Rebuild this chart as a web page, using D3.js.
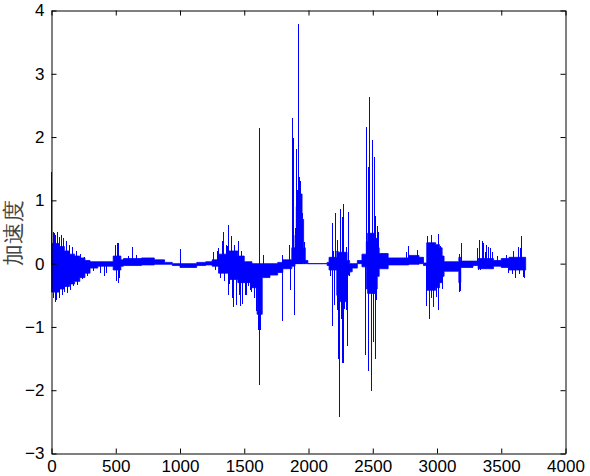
<!DOCTYPE html>
<html>
<head>
<meta charset="utf-8">
<script src="https://cdn.jsdelivr.net/npm/d3@7"></script>
<style>
  body { margin: 0; background: #fff; }
  text { font-family: "Liberation Sans", Arial, sans-serif; }
</style>
</head>
<body>
<div id="chart"></div>
<script>
var svgWidth = 590;
var svgHeight = 476;

var margin = { top: 10.5, right: 24.5, bottom: 22.5, left: 51.5 };
var width = svgWidth - margin.left - margin.right;
var height = svgHeight - margin.top - margin.bottom;

// tick values
var xTicks = [0, 500, 1000, 1500, 2000, 2500, 3000, 3500, 4000];
var yTicks = [-3, -2, -1, 0, 1, 2, 3, 4];

// dense part of the signal, read as an envelope (start of each step)
var envX  = [0, 60, 100, 140, 180, 220, 260, 300, 360, 480, 540, 560, 700, 800, 880, 940, 1000, 1130, 1200, 1250, 1300, 1380, 1450, 1500, 1560, 1600, 1640, 1700, 1760, 1800, 1870, 1895, 1905, 1930, 1950, 1962, 1975, 1995, 2145, 2160, 2220, 2230, 2300, 2320, 2340, 2380, 2416, 2450, 2460, 2520, 2535, 2550, 2620, 2780, 2860, 2895, 2920, 2990, 3020, 3040, 3055, 3170, 3185, 3280, 3320, 3440, 3500, 3560, 3690];
var envHi = [0.32, 0.27, 0.2, 0.15, 0.12, 0.09, 0.05, 0.03, 0.03, 0.12, 0.06, 0.08, 0.09, 0.06, 0.02, 0, 0, 0.02, 0.03, 0.06, 0.15, 0.2, 0.12, 0.03, 0, 0, 0, 0, 0.02, 0.06, 0.25, 0.45, 0.9, 1.1, 0.7, 0.25, 0.05, 0, 0.02, 0.1, 0.2, 0.18, 0.05, 0, 0, 0.05, 0.15, 0.35, 0.48, 0.4, 0.25, 0.16, 0.09, 0.13, 0.1, 0.01, 0.33, 0.3, 0.25, 0.12, 0.03, 0.1, 0.04, 0.04, 0.08, 0.05, 0.08, 0.1, 0];
var envLo = [-0.45, -0.4, -0.36, -0.32, -0.28, -0.22, -0.15, -0.07, -0.04, -0.1, -0.04, -0.03, -0.02, -0.01, -0.01, -0.03, -0.06, -0.03, -0.02, -0.04, -0.15, -0.25, -0.3, -0.3, -0.38, -0.8, -0.22, -0.18, -0.14, -0.08, -0.04, 0, 0, 0, 0, 0, 0, 0, -0.03, -0.1, -0.5, -0.6, -0.18, -0.13, -0.07, 0, -0.05, -0.4, -0.47, -0.4, -0.2, -0.08, -0.02, -0.01, 0, -0.03, -0.42, -0.38, -0.3, -0.2, -0.12, -0.3, -0.06, -0.03, -0.08, -0.04, -0.06, -0.1, 0];

// isolated peaks sticking out of the envelope
var spikeX = [2, 12, 14, 20, 28, 35, 42, 50, 60, 66, 75, 85, 95, 105, 115, 125, 140, 150, 165, 175, 195, 205, 225, 240, 260, 280, 330, 380, 410, 430,
  495, 505, 510, 520, 525, 530, 600, 634, 660, 1000, 1260, 1275, 1290,
  1300, 1312, 1329, 1342, 1350, 1358, 1370, 1376, 1380, 1389, 1402, 1405, 1415, 1422, 1428, 1436, 1441, 1454, 1462, 1467, 1480, 1488, 1506, 1519, 1532, 1545, 1558, 1576, 1592, 1610, 1615, 1617, 1625, 1648, 1795, 1800, 1856, 1862,
  1879, 1887, 1889, 1897, 1905, 1913, 1921, 1930, 1935, 1945, 1953, 1965,
  2172, 2185, 2186, 2195, 2206, 2214, 2224, 2226, 2235, 2240, 2248, 2253, 2263, 2265, 2271, 2273, 2280, 2292, 2294, 2302, 2310, 2320,
  2445, 2455, 2465, 2470, 2478, 2488, 2494, 2500, 2505, 2513, 2518, 2525, 2530, 2540, 2548,
  2764, 2775, 2845, 2915, 2925, 2938, 2955, 2960, 2971, 2980, 2995, 3008, 3012, 3030, 3040,
  3172, 3176, 3180, 3187, 3314, 3322, 3330, 3340, 3353, 3361, 3374, 3385, 3400, 3418, 3430, 3470, 3542, 3560, 3586, 3594, 3611, 3633, 3641, 3646, 3661, 3672, 3680];
var spikeY = [1.45, 0.5, -0.55, 0.48, -0.6, 0.45, -0.58, 0.5, 0.42, -0.55, 0.46, -0.5, 0.4, -0.45, 0.35, -0.47, 0.3, -0.42, 0.27, -0.35, 0.2, -0.33, 0.15, -0.25, 0.1, -0.2, -0.12, -0.15, -0.2, -0.15,
  0.3, -0.28, 0.33, -0.3, 0.32, -0.22, 0.12, 0.27, 0.14, 0.23, 0.18, -0.1, 0.2,
  0.25, -0.22, 0.35, 0.5, -0.28, 0.3, 0.28, 0.61, -0.5, -0.32, 0.43, -0.55, -0.68, 0.25, 0.3, -0.66, -0.45, 0.36, -0.5, -0.67, 0.2, -0.63, -0.49, -0.5, -0.36, -0.42, -0.45, -0.55, -0.75, -1.05, -1.92, 2.14, -1.05, 0.14, -0.9, 0.13, 0.29, -0.42,
  2.3, 1.98, -0.81, 0.56, 1.81, 1.16, 3.79, 1.37, 1.3, 0.95, 0.8, 0.34,
  -0.2, 0.65, -0.98, 0.2, -0.65, 0.8, 0.38, -0.74, -1.51, -2.42, 0.87, -0.87, 0.74, -1.57, 0.95, -1.57, -0.72, 0.26, -0.73, -1.3, 0.81, -0.2,
  -1.45, 2.16, 1.53, -1.7, 2.64, -0.98, -2.02, 1.95, -1.24, 1.69, -1.5, 0.76, -0.58, 0.6, 0.5,
  0.19, 0.28, 0.22, -0.67, 0.43, -0.87, 0.46, -0.55, -0.68, 0.3, -0.52, 0.47, -0.74, 0.28, -0.4,
  -0.45, 0.16, -0.44, 0.33, 0.24, -0.1, 0.38, -0.1, 0.36, 0.33, 0.18, 0.3, 0.26, 0.25, 0.18, 0.12, 0.14, -0.15, -0.16, 0.2, -0.22, 0.26, -0.17, 0.24, 0.44, -0.21, -0.22];

var svg = d3.select("#chart")
  .append("svg")
  .attr("width", svgWidth)
  .attr("height", svgHeight);

var chartGroup = svg.append("g")
  .attr("transform", `translate(${margin.left}, ${margin.top})`);

var x = d3.scaleLinear().domain([0, 4000]).range([0, width]);
var y = d3.scaleLinear().domain([-3, 4]).range([height, 0]);

// envelope
var env = envX.map((d, i) => ({ x: d, hi: envHi[i], lo: envLo[i] }));
var area = d3.area()
  .curve(d3.curveStepAfter)
  .x(d => x(d.x))
  .y0(d => y(d.lo))
  .y1(d => y(d.hi));

chartGroup.append("path")
  .datum(env)
  .attr("d", area)
  .attr("fill", "#0000ff")
  .attr("stroke", "#0000ff")
  .attr("stroke-width", 0.8);

// peaks
chartGroup.selectAll("line.spike")
  .data(spikeX.map((d, i) => ({ x: d, v: spikeY[i] })))
  .enter()
  .append("line")
  .attr("class", "spike")
  .attr("x1", d => x(d.x))
  .attr("x2", d => x(d.x))
  .attr("y1", y(0))
  .attr("y2", d => y(d.v))
  .attr("stroke", "#0000ff")
  .attr("stroke-width", 1)
  .attr("shape-rendering", "crispEdges");

// axes, MATLAB style box with inward ticks
var tickLen = 5;
var fmt = d3.format("d");
chartGroup.append("g")
  .attr("transform", `translate(0, ${height})`)
  .call(d3.axisBottom(x).tickValues(xTicks).tickFormat(fmt).tickSizeInner(-tickLen).tickSizeOuter(0).tickPadding(6));
chartGroup.append("g")
  .call(d3.axisTop(x).tickValues(xTicks).tickSizeInner(-tickLen).tickSizeOuter(0).tickFormat(""));
chartGroup.append("g")
  .call(d3.axisLeft(y).tickValues(yTicks).tickFormat(fmt).tickSizeInner(-tickLen).tickSizeOuter(0).tickPadding(7));
chartGroup.append("g")
  .attr("transform", `translate(${width}, 0)`)
  .call(d3.axisRight(y).tickValues(yTicks).tickSizeInner(-tickLen).tickSizeOuter(0).tickFormat(""));

chartGroup.selectAll(".domain").attr("stroke", "#000").attr("stroke-width", 1);
chartGroup.selectAll(".tick line").attr("stroke", "#000");
chartGroup.selectAll(".tick text")
  .attr("font-size", 17)
  .attr("font-family", "'Liberation Sans', Arial, sans-serif")
  .attr("fill", "#000");

// y label
svg.append("text")
  .attr("transform", "translate(21, 233) rotate(-90)")
  .attr("text-anchor", "middle")
  .attr("font-size", 22)
  .attr("font-family", "'Noto Sans CJK SC', sans-serif")
  .attr("fill", "#444")
  .text("加速度");
</script>
</body>
</html>
